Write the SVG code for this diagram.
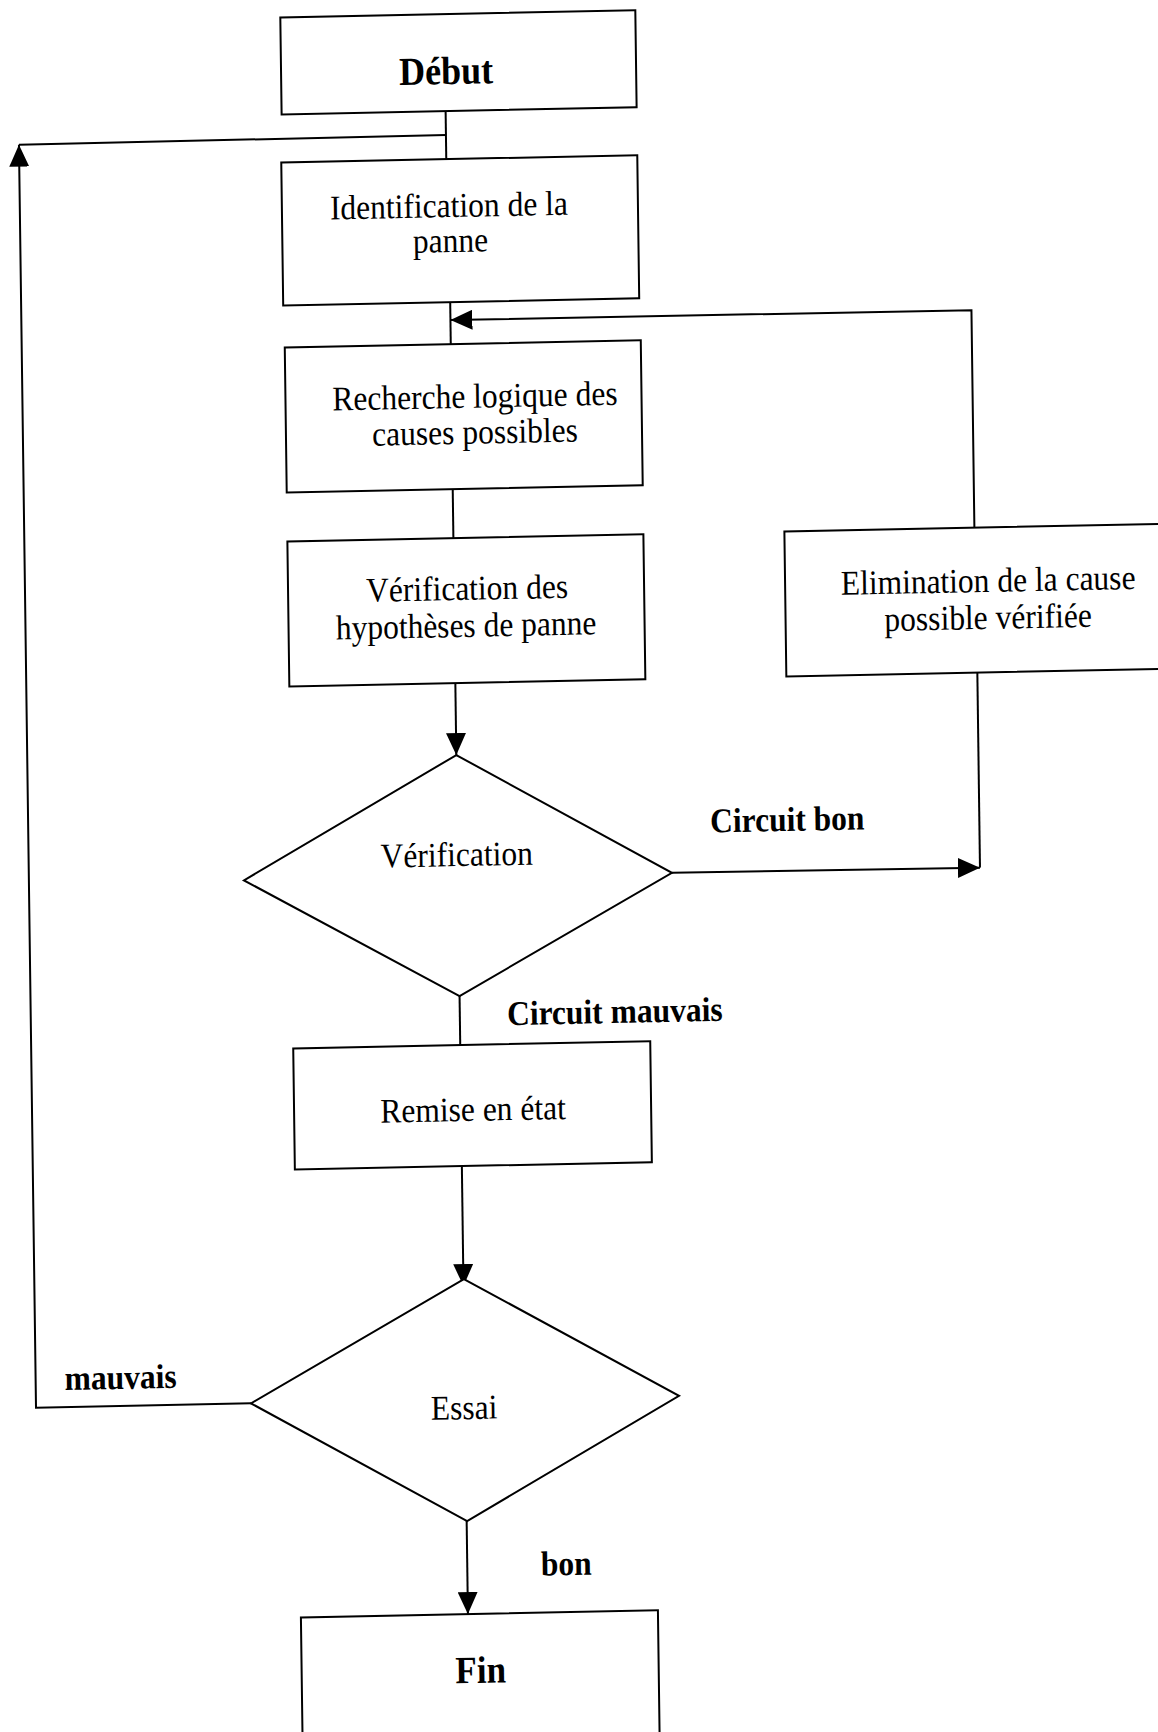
<svg xmlns="http://www.w3.org/2000/svg" width="1158" height="1732" viewBox="0 0 1158 1732">
<defs>
<marker id="ah" markerUnits="userSpaceOnUse" markerWidth="22" markerHeight="20" refX="22" refY="10" orient="auto"><path d="M0,0 L22,10 L0,20 z" fill="#000"/></marker>
</defs>
<style>
.box{fill:#fff;stroke:#000;stroke-width:2}
.ln{fill:none;stroke:#000;stroke-width:2}
.t{font-family:"Liberation Serif","Times New Roman",serif;font-size:31.5px;text-anchor:middle;fill:#000}
.b{font-weight:bold}
</style>
<rect width="1158" height="1732" fill="#fff"/>
<g transform="matrix(1,-0.02,0.0135,1,0,0)">
<g id="connectors">
<path class="ln" d="M444,120 L444,168"/>
<path class="ln" d="M232,1408 L17,1408 L17,145" marker-end="url(#ah)"/>
<path class="ln" d="M17,145 L444,144"/>
<path class="ln" d="M446,311 L446,353"/>
<path class="ln" d="M967,547 L967,329.5 L446,329" marker-end="url(#ah)"/>
<path class="ln" d="M446,498 L446,547"/>
<path class="ln" d="M446,692 L446,764" marker-end="url(#ah)"/>
<path class="ln" d="M968,692 L968,887"/>
<path class="ln" d="M660,886 L968,887" marker-end="url(#ah)"/>
<path class="ln" d="M446,1005 L446,1054"/>
<path class="ln" d="M446,1175 L446,1295" marker-end="url(#ah)"/>
<path class="ln" d="M446,1530 L446,1623" marker-end="url(#ah)"/>
<text class="t b" transform="translate(776,846.5) scale(1,1.1)">Circuit bon</text>
<text class="t b" transform="translate(601,1035) scale(1,1.1)">Circuit mauvais</text>
<text class="t b" transform="translate(102,1391) scale(1,1.1)">mauvais</text>
<text class="t b" transform="translate(545,1586) scale(1,1.1)">bon</text>
</g>
<g id="debut">
<rect class="box" x="280" y="23" width="355" height="97"/>
<text class="t b" style="font-size:36px" transform="translate(445,93) scale(1,1.1)">Début</text>
</g>
<g id="identification">
<rect class="box" x="279" y="168" width="356" height="143"/>
<text class="t" transform="translate(446,226) scale(1,1.1)">Identification de la</text>
<text class="t" transform="translate(447,261) scale(1,1.1)">panne</text>
</g>
<g id="recherche">
<rect class="box" x="280" y="353" width="356" height="145"/>
<text class="t" transform="translate(469.5,417) scale(1,1.1)">Recherche logique des</text>
<text class="t" transform="translate(469,453) scale(1,1.1)">causes possibles</text>
</g>
<g id="verification-hypotheses">
<rect class="box" x="280" y="547" width="356" height="145"/>
<text class="t" transform="translate(459,609) scale(1,1.1)">Vérification des</text>
<text class="t" transform="translate(457.5,646) scale(1,1.1)">hypothèses de panne</text>
</g>
<g id="elimination">
<rect class="box" x="777" y="547" width="420" height="145"/>
<text class="t" transform="translate(980,611.5) scale(1,1.1)">Elimination de la cause</text>
<text class="t" transform="translate(979.5,648.5) scale(1,1.1)">possible vérifiée</text>
</g>
<g id="verification">
<polygon class="box" points="446,764 660,886 446,1005 232,885"/>
<text class="t" transform="translate(445,875) scale(1,1.1)">Vérification</text>
</g>
<g id="remise">
<rect class="box" x="279" y="1054" width="357" height="121"/>
<text class="t" transform="translate(458,1130) scale(1,1.1)">Remise en état</text>
</g>
<g id="essai">
<polygon class="box" points="446.5,1288 660,1409 446.5,1530 232,1408"/>
<text class="t" transform="translate(445,1428) scale(1,1.1)">Essai</text>
</g>
<g id="fin">
<rect class="box" x="279" y="1623" width="357" height="140"/>
<text class="t b" style="font-size:35px" transform="translate(458,1692) scale(1,1.1)">Fin</text>
</g>
</g>
</svg>
